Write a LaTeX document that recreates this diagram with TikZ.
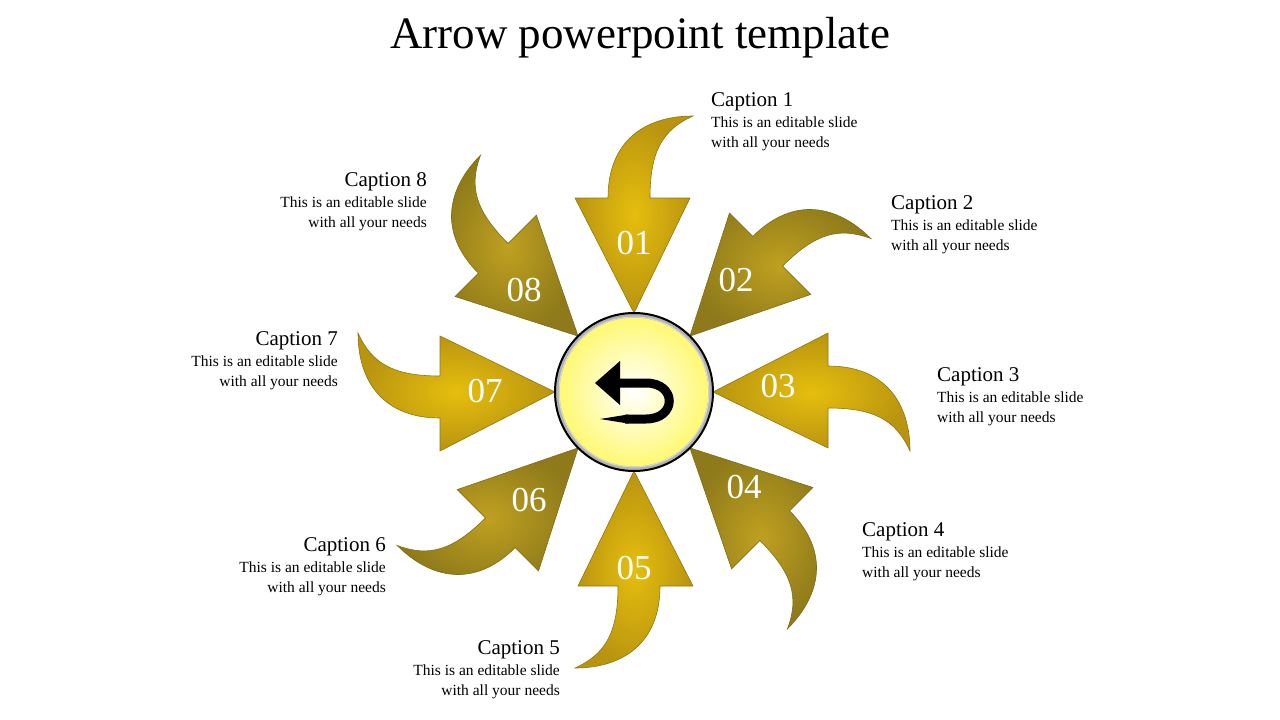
\documentclass[tikz,border=0pt]{standalone}
\usepackage{fontspec}
\setmainfont{Liberation Serif}
\begin{document}
\begin{tikzpicture}[x=1pt,y=-1pt,
  num/.style={text=white, font=\fontsize{35}{35}\selectfont},
  captitle/.style={font=\fontsize{21}{23}\selectfont, inner sep=0},
  capbody/.style={font=\fontsize{15.5}{19.5}\selectfont, inner sep=0}]
\definecolor{gA}{HTML}{E6BE0E}
\definecolor{gB}{HTML}{B89410}
\definecolor{gC}{HTML}{BFA020}
\definecolor{gD}{HTML}{8E7A1A}
\tikzset{arrodd/.style={inner color=gA, outer color=gB, draw=gB!80!black, line width=0.6pt},
  arreven/.style={inner color=gC, outer color=gD, draw=gD!90!black, line width=0.6pt}}
\useasboundingbox (0,0) rectangle (1280,720);
\node[font=\fontsize{45}{47}\selectfont] (title) at (640,38) {Arrow powerpoint template};
\foreach \k in {1,...,8}{
  \pgfmathsetmacro{\ang}{45*(\k-1)}
  \pgfmathtruncatemacro{\parity}{mod(\k,2)}
  \ifnum\parity=1 \def\st{arrodd}\else\def\st{arreven}\fi
  \begin{scope}[shift={(634,392)}, rotate=-\ang]
    \path[\st] (0,-79) -- (-59,-194) -- (-26,-194) .. controls (-26,-252) and (12,-276) .. (59,-276)
      .. controls (28,-262) and (16,-240) .. (16,-194) -- (56,-194) -- cycle;
  \end{scope}
}
\foreach \k/\x/\y in {1/634/243,2/736/280,3/778/386,4/744/487,5/634/568,6/529/500,7/485/391,8/524/290}{
  \node[num] (n\k) at (\x,\y) {0\k};
}
% center
\fill[inner color=white, outer color=yellow!55!white!95!orange] (634,392) circle (77);
\draw[line width=5pt, gray!60] (634,392) circle (77);
\draw[line width=2pt, black] (634,392) circle (79);
\draw[line width=1pt, gray!30] (634,392) circle (75);
\node[circle, minimum size=150pt] (c) at (634,392) {};
% icon
\fill (595,383) -- (620,361) -- (620,405) -- cycle;
\draw[line width=9pt] (617,383) -- (646,383) .. controls (677,383) and (677,419) .. (646,419) -- (625,419);
\fill (628,414.5) -- (600,419) -- (628,423.5) -- cycle;
% captions
\foreach \n/\x/\y/\al in {1/711/102/west,2/891/205/west,3/937/377/west,4/862/532/west,5/560/650/east,6/386/547/east,7/338/341/east,8/427/182/east}{
  \node[captitle, anchor=\al] (ct\n) at (\x,\y) {Caption \n};
}
\foreach \n/\x/\y in {1/711/102,2/891/205,3/937/377,4/862/532}{
  \node[capbody, anchor=north west, align=left] (cb\n) at (\x,\y+15) {This is an editable slide\\with all your needs};
}
\foreach \n/\x/\y in {5/560/650,6/386/547,7/338/341,8/427/182}{
  \node[capbody, anchor=north east, align=right] (cb\n) at (\x,\y+15) {This is an editable slide\\with all your needs};
}
\end{tikzpicture}
\end{document}
